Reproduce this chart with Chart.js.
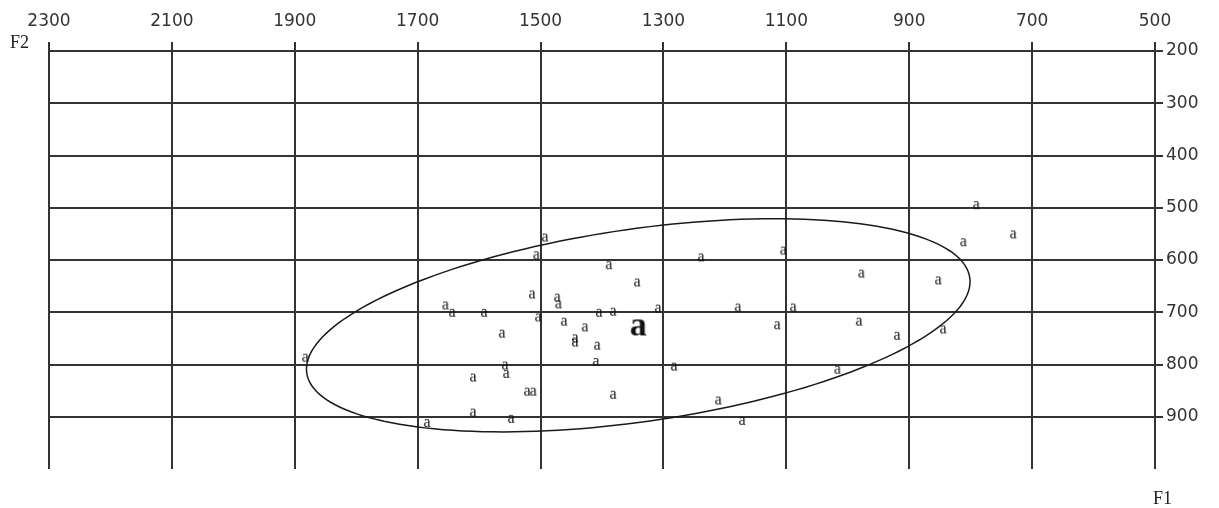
<!DOCTYPE html>
<html>
<head>
<meta charset="utf-8">
<script src="https://cdn.jsdelivr.net/npm/chart.js@4"></script>
<style>
  html, body { margin: 0; padding: 0; background: #fff; }
  #wrap { width: 1219px; height: 508px; }
</style>
</head>
<body>
<div id="wrap"><canvas id="formantChart"></canvas></div>
<script>
// F1 / F2 values of each "a" token
const f1Values = [791, 731, 812, 1105, 1239, 1493, 1507, 1389, 1343, 978,
  853, 1514, 1473, 1471, 1655, 1644, 1592, 1563, 1504, 1462,
  1428, 1444, 1444, 1408, 1405, 1382, 1309, 1179, 1089, 1115,
  982, 920, 845, 1883, 1558, 1556, 1610, 1410, 1283, 1522,
  1512, 1382, 1610, 1548, 1685, 1211, 1172, 1017];
const f2Values = [495, 551, 566, 582, 595, 557, 591, 610, 643, 626,
  639, 666, 672, 685, 687, 701, 701, 741, 710, 718,
  729, 750, 758, 764, 701, 699, 693, 691, 691, 725,
  718, 745, 733, 787, 802, 818, 825, 795, 804, 852,
  852, 858, 892, 904, 912, 869, 908, 810];

// mean of the category (big bold "a")
const meanF1 = [1341];
const meanF2 = [729];

// dispersion ellipse: centre, half extents along F1 / F2, correlation
const ellipseCenter = [1341, 725];
const ellipseRadius = [540, 204];
const ellipseCorr = 0.41;

const f1Ticks = [2300, 2100, 1900, 1700, 1500, 1300, 1100, 900, 700, 500];
const f2Ticks = [200, 300, 400, 500, 600, 700, 800, 900];

function letterImage(txt, font, size, w, h) {
  const c = document.createElement('canvas');
  c.width = w; c.height = h;
  const g = c.getContext('2d');
  g.font = font;
  g.fillStyle = '#111';
  g.textAlign = 'center';
  g.textBaseline = 'alphabetic';
  g.fillText(txt, w / 2, h / 2 + size * 0.23);
  return c;
}

const smallA = letterImage('a', '16px "Liberation Serif"', 16, 14, 16);
const bigA = letterImage('a', 'bold 34px "Liberation Serif"', 34, 30, 34);

const tokens = f1Values.map((v, i) => ({ x: v, y: f2Values[i] }));
const means = meanF1.map((v, i) => ({ x: v, y: meanF2[i] }));

const extras = {
  id: 'extras',
  beforeDatasetsDraw(chart) {
    const { ctx, scales: { x, y } } = chart;
    ctx.save();
    ctx.beginPath();
    const k = Math.sqrt(1 - ellipseCorr * ellipseCorr);
    for (let i = 0; i <= 180; i++) {
      const t = i / 180 * Math.PI * 2;
      const fx = ellipseCenter[0] + ellipseRadius[0] * Math.cos(t);
      const fy = ellipseCenter[1] + ellipseRadius[1] * (ellipseCorr * Math.cos(t) + k * Math.sin(t));
      const px = x.getPixelForValue(fx), py = y.getPixelForValue(fy);
      if (i === 0) ctx.moveTo(px, py); else ctx.lineTo(px, py);
    }
    ctx.strokeStyle = '#1a1a1a';
    ctx.lineWidth = 1.5;
    ctx.stroke();
    ctx.restore();
  },
  afterDraw(chart) {
    const { ctx } = chart;
    ctx.save();
    ctx.fillStyle = '#222';
    ctx.font = '18px "Liberation Serif"';
    ctx.textBaseline = 'middle';
    ctx.textAlign = 'left';
    ctx.fillText('F2', 10, 43);
    ctx.fillText('F1', 1153, 499);
    ctx.restore();
  }
};

new Chart(document.getElementById('formantChart'), {
  type: 'scatter',
  data: {
    datasets: [{
      label: 'a',
      data: tokens,
      pointStyle: smallA,
      pointRadius: 7
    }, {
      label: 'mean a',
      data: means,
      pointStyle: bigA,
      pointRadius: 15
    }]
  },
  options: {
    responsive: true,
    maintainAspectRatio: false,
    animation: false,
    layout: { padding: { left: 49, right: 0, top: 0, bottom: 39 } },
    plugins: {
      legend: { display: false },
      tooltip: { enabled: false }
    },
    scales: {
      x: {
        type: 'linear',
        position: 'top',
        reverse: true,
        min: 500,
        max: 2300,
        afterFit: s => { s.height = 51; },
        afterBuildTicks: s => { s.ticks = f1Ticks.map(v => ({ value: v })); },
        border: { display: false },
        grid: { color: '#333', lineWidth: 2, tickLength: 9 },
        ticks: {
          padding: 10,
          maxRotation: 0,
          color: '#333',
          font: { family: 'DejaVu Sans', size: 17 },
          callback: v => String(v)
        }
      },
      y: {
        type: 'linear',
        position: 'right',
        reverse: true,
        min: 200,
        max: 1000,
        afterFit: s => { s.width = 64; },
        afterBuildTicks: s => { s.ticks = f2Ticks.map(v => ({ value: v })); },
        border: { display: false },
        grid: { color: '#333', lineWidth: 2, tickLength: 8 },
        ticks: {
          padding: 3,
          color: '#333',
          font: { family: 'DejaVu Sans', size: 17 },
          callback: v => String(v)
        }
      }
    }
  },
  plugins: [extras]
});
</script>
</body>
</html>
